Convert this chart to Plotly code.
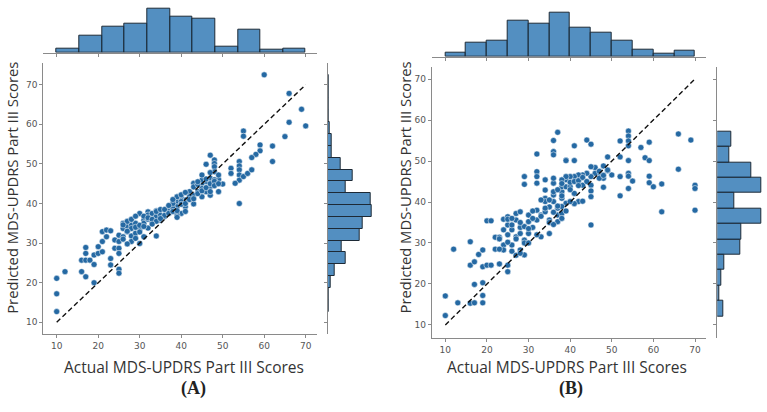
import plotly.graph_objects as go

# ---------------- data ----------------
a_actual = [10,10,10,12,16,16,17,17,17,17,18,19,19,19,20,20,21,21,21,22,22,23,23,23,24,24,25,25,25,25,25,25,26,26,26,27,27,28,28,28,28,29,29,29,30,30,30,31,31,31,32,32,32,33,33,34,34,34,35,35,36,36,37,37,38,38,39,39,40,
            60,66,66,69,70,65,55,55,59,59,58,57,62,62,47,48,48,48,46,48,52,52,54,54,54,54,54,55,56,57,53,54,50,49,49,49,47,46,45,45,47,47,46,45,45,43,44,43,43,42,42,41,41,40,40,39,39,38,38,39,38,
            27,27,28,29,30,30,31,32,32,33,34,34,35,36,36,37,37,38,38,39,40,40,41,41,42,43,43,44,44,45,46,46,47,47,48,48,48,49,26,26,27,29,31,33,35,39,41,44,45,47]
a_pred = [21.1,17.2,12.7,22.8,25.7,22.8,28.9,27.4,25.7,21.5,25.7,24.6,20.0,27.0,29.1,27.4,30.4,32.9,27.8,33.3,31.6,33.1,26.1,24.5,28.7,30.8,32.0,28.7,23.4,22.4,27.4,30.4,35.0,33.7,31.6,34.2,32.9,31.8,34.6,30.4,33.7,32.5,31.2,35.0,29.9,37.5,33.3,35.8,31.6,35.0,37.9,36.0,37.1,35.4,37.5,31.8,36.7,38.2,37.1,35.8,38.4,36.7,39.2,38.0,40.0,39.2,41.7,40.5,37.5,
          72.5,67.8,60.5,63.8,59.6,56.9,58.3,57.0,54.8,53.3,52.4,51.6,54.5,50.6,52.2,51.0,50.1,49.3,49.9,48.0,48.9,47.6,50.6,49.5,48.5,47.2,45.9,46.8,47.6,48.5,45.1,40.0,44.9,46.1,43.0,47.2,46.4,45.5,45.1,45.9,44.3,42.1,43.0,41.7,43.8,45.1,43.0,42.1,39.9,43.0,41.7,40.9,39.2,41.7,40.5,39.2,41.7,40.5,38.8,37.1,40.0,
          33.0,35.5,36.0,34.0,32.8,34.5,36.8,33.8,36.4,36.0,38.0,35.5,38.5,37.0,38.5,37.5,39.5,38.0,41.0,38.2,39.8,42.2,40.0,42.8,41.0,44.2,41.2,44.8,42.5,43.2,46.2,44.0,45.0,43.0,46.0,45.6,44.5,45.0,34.6,31.0,29.8,36.8,34.2,34.8,36.2,36.5,38.0,45.5,47.2,47.8]

b_actual = [10,10,12,13,16,16,16,17,17,17,18,19,19,19,19,19,20,20,21,21,22,22,23,23,24,24,24,24,25,25,25,25,25,26,26,26,27,27,27,28,28,28,28,29,29,29,29,29,30,30,30,31,32,32,32,32,32,32,33,33,34,34,34,34,34,35,35,35,36,36,36,36,36,36,37,37,37,38,38,38,39,39,39,36,37,
            44,45,41,39,41,52,54,54,54,54,57,59,58,59,49,52,54,66,69,66,70,70,70,62,62,59,59,60,55,54,54,54,52,52,50,49,48,48,48,47,47,46,46,45,45,45,45,45,44,43,42,42,41,40,39,38,38,39,40,41,42,43,41,40,38,38,38,43,45,
            25,26,27,28,29,30,31,31,32,33,33,34,35,36,36,37,37,38,38,39,40,40,41,42,42,43,44,47,48,49,25,26,23,23,27,28,30,35,36]
b_pred = [17.1,12.3,28.5,15.4,30.3,24.6,15.3,15.4,25.4,19.9,27.2,28.3,24.2,17.2,15.4,20.3,24.6,35.4,35.4,24.6,28.5,31.4,31.4,24.9,35.8,29.5,28.3,33.2,34.4,32.0,24.6,23.0,36.4,33.2,29.5,34.4,35.6,31.5,37.2,33.8,32.3,28.3,37.6,34.0,46.2,44.3,30.7,27.1,35.2,32.3,36.8,33.8,35.6,47.4,46.2,44.6,51.7,38.0,36.8,31.5,45.4,42.9,40.9,40.1,37.6,32.3,35.6,38.8,41.7,52.3,51.5,44.6,45.8,40.1,36.8,35.2,38.5,40.9,42.5,44.1,45.4,50.2,39.7,55.0,57.0,
          55.1,54.1,53.7,50.1,50.1,54.9,57.3,56.1,54.9,53.7,53.3,54.6,50.8,50.1,51.0,51.0,50.1,56.6,55.1,48.0,44.1,43.3,38.0,37.6,44.4,46.3,44.7,43.7,45.1,47.0,46.3,43.3,46.2,41.5,46.6,47.6,48.8,45.8,43.6,47.0,45.8,48.4,47.0,48.6,46.2,44.1,42.7,41.3,47.0,46.6,46.2,46.6,46.2,46.2,46.2,45.4,43.7,43.7,43.7,42.1,40.1,40.2,39.6,40.1,38.9,37.2,36.0,44.1,34.4,
          30.2,28.0,31.0,35.0,30.0,33.5,37.8,36.0,32.0,40.5,36.5,38.5,40.5,37.5,42.5,39.0,43.0,44.5,41.5,37.8,44.8,43.0,45.0,45.2,44.0,46.0,45.0,47.5,46.5,47.8,35.8,36.0,31.0,28.5,27.0,27.5,30.0,35.0,34.5]

# marginal histogram bins and counts
a_x_edges = [10, 15.45, 20.91, 26.36, 31.82, 37.27, 42.73, 48.18, 53.64, 59.09, 64.55, 70]
a_x_counts = [4, 19, 29, 32, 48, 39, 37, 7, 25, 3, 4]
a_y_edges = [12.7, 15.69, 18.68, 21.67, 24.66, 27.65, 30.64, 33.63, 36.62, 39.61, 42.6,
             45.59, 48.58, 51.57, 54.56, 57.55, 60.54, 63.53, 66.52, 69.51, 72.5]
a_y_counts = [1, 1, 3, 7, 17, 13, 30, 33, 41, 40, 17, 23, 12, 4, 4, 2, 1, 1, 1, 1]

b_x_edges = [10, 15, 20, 25, 30, 35, 40, 45, 50, 55, 60, 65, 70]
b_x_counts = [4, 15, 17, 39, 35, 47, 31, 26, 17, 7, 3, 6]
b_y_edges = [12.1, 15.86, 19.62, 23.38, 27.14, 30.9, 34.66, 38.42, 42.18, 45.94, 49.7, 53.46, 57.22]
b_y_counts = [6, 2, 4, 8, 25, 26, 47, 18, 47, 36, 13, 15]

diag = [10, 70]
ticks = [10, 20, 30, 40, 50, 60, 70]
x_label = "Actual MDS-UPDRS Part III Scores"
y_label = "Predicted MDS-UPDRS Part III Scores"

# ---------------- styling ----------------
W, H = 767, 412
PT_COLOR = "#2569a3"
BAR_FILL = "rgba(40,115,178,0.80)"
BAR_EDGE = "#1d2a36"
SPINE = "#8a8a8a"
TICKFONT = dict(family="DejaVu Sans", size=9, color="#555555")


def hdom(a, b):
    return [a / W, b / W]


def vdom(top, bottom):
    return [(H - bottom) / H, (H - top) / H]


def centers(e):
    return [(e[i] + e[i + 1]) / 2 for i in range(len(e) - 1)]


def widths(e):
    return [e[i + 1] - e[i] for i in range(len(e) - 1)]


fig = go.Figure()

panels = [
    dict(ax=a_actual, ay=a_pred, xe=a_x_edges, xc=a_x_counts, ye=a_y_edges, yc=a_y_counts,
         main_x=(43.3, 316.7), main_y=(63, 334), xr=[6.77, 72.65], yr=[7.05, 75.48],
         top_y=(6.7, 52.7), top_r=[0, 50.4], right_x=(327.7, 373.7), right_r=[0, 43.05],
         ids=(1, 2, 3)),
    dict(ax=b_actual, ay=b_pred, xe=b_x_edges, xc=b_x_counts, ye=b_y_edges, yc=b_y_counts,
         main_x=(431.7, 706), main_y=(66.7, 337.7), xr=[6.73, 72.64], yr=[6.9, 73.0],
         top_y=(10.7, 56.7), top_r=[0, 49.35], right_x=(717.3, 763.3), right_r=[0, 49.35],
         ids=(4, 5, 6)),
]

layout = dict(width=W, height=H, margin=dict(l=0, r=0, t=0, b=0),
              paper_bgcolor="white", plot_bgcolor="white", showlegend=False,
              bargap=0)

for p in panels:
    m, t, r = p["ids"]
    mx = "x" if m == 1 else f"x{m}"
    my = "y" if m == 1 else f"y{m}"
    tx, ty = f"x{t}", f"y{t}"
    rx, ry = f"x{r}", f"y{r}"

    fig.add_trace(go.Scatter(x=p["ax"], y=p["ay"], mode="markers", xaxis=mx, yaxis=my,
                             marker=dict(size=6, color=PT_COLOR,
                                         line=dict(color="white", width=0.5))))
    fig.add_trace(go.Scatter(x=diag, y=diag, mode="lines", xaxis=mx, yaxis=my,
                             line=dict(color="#111111", width=1.4, dash="5px,3px")))
    fig.add_trace(go.Bar(x=centers(p["xe"]), y=p["xc"], width=widths(p["xe"]),
                         xaxis=tx, yaxis=ty,
                         marker=dict(color=BAR_FILL, line=dict(color=BAR_EDGE, width=1))))
    fig.add_trace(go.Bar(y=centers(p["ye"]), x=p["yc"], width=widths(p["ye"]),
                         orientation="h", xaxis=rx, yaxis=ry,
                         marker=dict(color=BAR_FILL, line=dict(color=BAR_EDGE, width=1))))

    key = lambda n, ax: (ax + ("axis" if n == 1 else f"axis{n}"))
    common = dict(showgrid=False, zeroline=False, showline=True, linecolor=SPINE,
                  linewidth=1, ticks="outside", tickcolor=SPINE, ticklen=3,
                  tickvals=ticks, tickfont=TICKFONT)
    layout[key(m, "x")] = dict(domain=hdom(*p["main_x"]), range=p["xr"], anchor=my, **common)
    layout[key(m, "y")] = dict(domain=vdom(*p["main_y"]), range=p["yr"], anchor=mx, **common)
    layout[key(t, "x")] = dict(domain=hdom(*p["main_x"]), range=p["xr"], anchor=ty,
                               showticklabels=False, **common)
    layout[key(t, "y")] = dict(domain=vdom(*p["top_y"]), range=p["top_r"], anchor=tx,
                               visible=False)
    layout[key(r, "x")] = dict(domain=hdom(*p["right_x"]), range=p["right_r"], anchor=ry,
                               visible=False)
    layout[key(r, "y")] = dict(domain=vdom(*p["main_y"]), range=p["yr"], anchor=rx,
                               showticklabels=False, **common)

XT_FONT = dict(family="Open Sans", size=15.5, color="#333333")
YT_FONT = dict(family="Open Sans", size=14.8, color="#333333")
LBL_FONT = dict(family="Liberation Serif", size=18, color="#222222")
annotations = [
    dict(text=x_label, x=183.5 / W, y=(H - 367) / H, font=XT_FONT),
    dict(text=x_label, x=566.5 / W, y=(H - 367) / H, font=XT_FONT),
    dict(text=y_label, x=12.3 / W, y=(H - 187.5) / H, textangle=-90, font=YT_FONT),
    dict(text=y_label, x=405 / W, y=(H - 187.5) / H, textangle=-90, font=YT_FONT),
    dict(text="<b>(A)</b>", x=193 / W, y=(H - 388) / H, font=LBL_FONT),
    dict(text="<b>(B)</b>", x=571 / W, y=(H - 388) / H, font=LBL_FONT),
]
for a in annotations:
    a.update(xref="paper", yref="paper", showarrow=False, xanchor="center", yanchor="middle")
layout["annotations"] = annotations

fig.update_layout(**layout)
fig.write_html("out.html")
